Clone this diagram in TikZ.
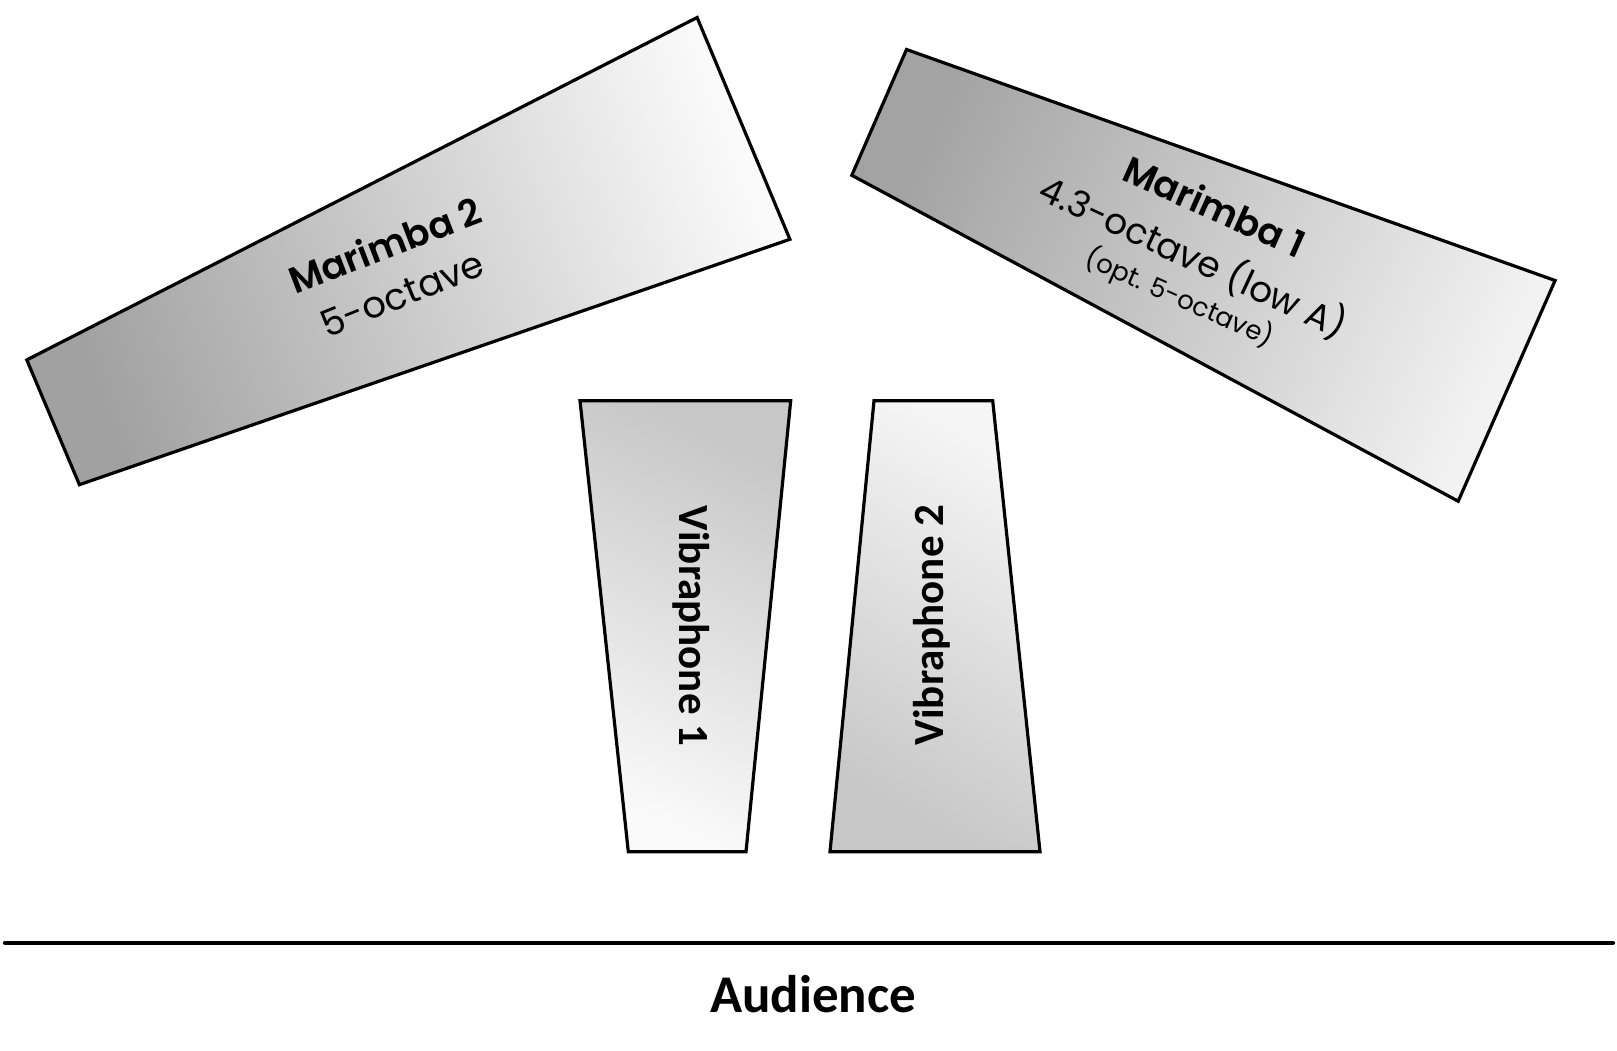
\documentclass[tikz,border=0pt]{standalone}
\usepackage{fontspec}
\newfontfamily\popfont{Poppins}[BoldFont={Poppins SemiBold}]
\newfontfamily\calfont{Carlito}
\begin{document}
\begin{tikzpicture}[x=1pt,y=-1pt,
  instr/.style={draw=black, line width=3.2pt, line join=miter},
  mlabel/.style={anchor=base, inner sep=0pt, font=\popfont},
  vlabel/.style={anchor=base, inner sep=0pt, font=\calfont\bfseries\fontsize{43}{46}\selectfont}]
\useasboundingbox (0,0) rectangle (1617,1050);
% Marimba 2
\shade[instr, left color=black!37, right color=black!2, shading angle=110]
  (26.8,359.9) -- (697.1,17.5) -- (789.9,239.3) -- (79.4,484.7) -- cycle;
% Marimba 1
\shade[instr, left color=black!36, right color=black!5, shading angle=66]
  (906.5,49.5) -- (1555.1,280.5) -- (1458.2,501.2) -- (851.8,175.3) -- cycle;
% Vibraphone 1
\shade[instr, left color=black!22, right color=black!2, shading angle=-25]
  (580,400.7) -- (790.7,400.7) -- (746,851.7) -- (628.3,851.7) -- cycle;
% Vibraphone 2
\shade[instr, left color=black!22, right color=black!4, shading angle=150]
  (874,400.7) -- (992.7,400.7) -- (1040,851.7) -- (830,851.7) -- cycle;
% labels
\node[mlabel, rotate=21, font=\popfont\bfseries\fontsize{37}{40}\selectfont] (m2a) at (390,258) {Marimba 2};
\node[mlabel, rotate=22, font=\popfont\fontsize{37}{40}\selectfont] (m2b) at (407,306) {5-octave};
\node[mlabel, rotate=-24, font=\popfont\bfseries\fontsize{37}{40}\selectfont] (m1a) at (1209,219) {Marimba 1};
\node[mlabel, rotate=-25, font=\popfont\fontsize{36}{40}\selectfont] (m1b) at (1188,269) {4.3-octave (low A)};
\node[mlabel, rotate=-24, font=\popfont\fontsize{26}{30}\selectfont] (m1c) at (1176,306) {(opt. 5-octave)};
\node[vlabel, rotate=-90] (v1) at (679,626) {Vibraphone 1};
\node[vlabel, rotate=90] (v2) at (943,625) {Vibraphone 2};
% audience
\coordinate (L) at (5,943);
\coordinate (R) at (1613,943);
\draw[line width=4.3pt, line cap=round] (L) -- (R);
\node[anchor=base, inner sep=0pt, font=\calfont\bfseries\fontsize{53}{58}\selectfont] (aud) at (813,1012) {Audience};
\end{tikzpicture}
\end{document}
